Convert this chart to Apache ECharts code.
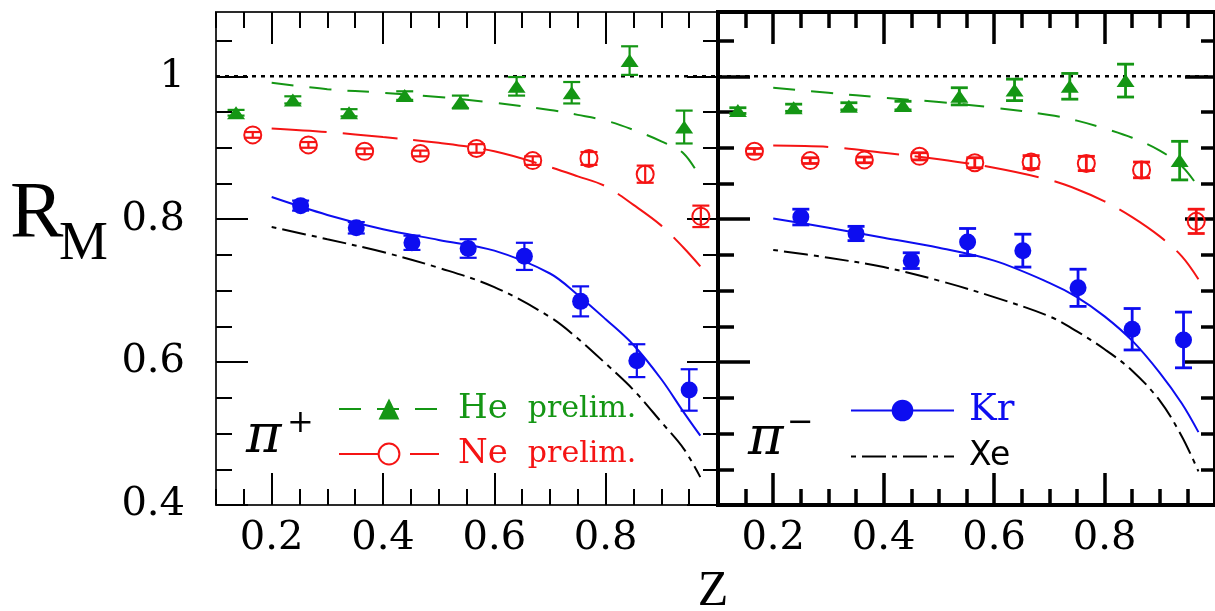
<!DOCTYPE html>
<html><head><meta charset="utf-8">
<script src="https://cdn.jsdelivr.net/npm/echarts@6/dist/echarts.min.js"></script>
<style>html,body{margin:0;padding:0;background:#fff}#c{width:1215px;height:611px}</style>
</head><body><div id="c"></div>
<script>
// ---------- data ----------
const xTickLabels = [0.2, 0.4, 0.6, 0.8];
const yTickLabels = [0.4, 0.6, 0.8, 1];
const Z_MIN = 0.1, Z_MAX = 1.0, R_MIN = 0.4, R_MAX = 1.09;

// pi+ panel
const zHeP = [0.136, 0.238, 0.339, 0.439, 0.539, 0.640, 0.739, 0.843, 0.941];
const rHeP = [0.949, 0.967, 0.949, 0.973, 0.964, 0.986, 0.977, 1.022, 0.929];
const eHeP = [0.004, 0.005, 0.005, 0.006, 0.009, 0.013, 0.015, 0.020, 0.023];
const zNeP = [0.166, 0.266, 0.367, 0.467, 0.568, 0.669, 0.770, 0.871, 0.971];
const rNeP = [0.918, 0.904, 0.895, 0.892, 0.899, 0.882, 0.885, 0.863, 0.804];
const eNeP = [0.004, 0.004, 0.004, 0.004, 0.006, 0.006, 0.009, 0.012, 0.015];
const zKrP = [0.252, 0.352, 0.452, 0.553, 0.654, 0.755, 0.856, 0.950];
const rKrP = [0.819, 0.788, 0.767, 0.759, 0.748, 0.685, 0.602, 0.561];
const eKrP = [0.007, 0.008, 0.010, 0.013, 0.019, 0.021, 0.023, 0.029];

// pi- panel
const zHeM = [0.136, 0.237, 0.337, 0.435, 0.537, 0.637, 0.737, 0.838, 0.936];
const rHeM = [0.952, 0.956, 0.958, 0.959, 0.972, 0.981, 0.986, 0.994, 0.882];
const eHeM = [0.004, 0.005, 0.005, 0.006, 0.012, 0.015, 0.018, 0.023, 0.027];
const zNeM = [0.166, 0.267, 0.365, 0.465, 0.565, 0.667, 0.767, 0.867, 0.966];
const rNeM = [0.895, 0.882, 0.883, 0.888, 0.879, 0.880, 0.878, 0.869, 0.797];
const eNeM = [0.004, 0.004, 0.004, 0.005, 0.007, 0.009, 0.010, 0.011, 0.017];
const zKrM = [0.250, 0.350, 0.450, 0.552, 0.652, 0.752, 0.850, 0.943];
const rKrM = [0.803, 0.780, 0.742, 0.768, 0.756, 0.704, 0.646, 0.631];
const eKrM = [0.011, 0.010, 0.011, 0.019, 0.023, 0.026, 0.029, 0.039];

// model curves
const zCurve = [0.2, 0.3, 0.4, 0.5, 0.6, 0.7, 0.75, 0.8, 0.85, 0.9, 0.94, 0.97];
const heCurveP = [0.991, 0.982, 0.977, 0.971, 0.963, 0.953, 0.946, 0.938, 0.925, 0.909, 0.892, 0.858];
const neCurveP = [0.927, 0.922, 0.915, 0.907, 0.895, 0.873, 0.860, 0.846, 0.820, 0.791, 0.760, 0.734];
const krCurveP = [0.831, 0.806, 0.786, 0.771, 0.756, 0.724, 0.694, 0.660, 0.624, 0.576, 0.530, 0.497];
const xeCurveP = [0.789, 0.772, 0.754, 0.732, 0.705, 0.663, 0.633, 0.598, 0.561, 0.516, 0.479, 0.439];
const heCurveM = [0.984, 0.977, 0.970, 0.964, 0.956, 0.946, 0.938, 0.927, 0.914, 0.896, 0.874, 0.845];
const neCurveM = [0.903, 0.901, 0.893, 0.884, 0.872, 0.855, 0.842, 0.825, 0.803, 0.776, 0.748, 0.716];
const krCurveM = [0.801, 0.788, 0.774, 0.760, 0.742, 0.711, 0.691, 0.664, 0.630, 0.585, 0.542, 0.502];
const xeCurveM = [0.757, 0.746, 0.733, 0.714, 0.691, 0.664, 0.643, 0.618, 0.588, 0.546, 0.496, 0.447];

const unityZ = [0.1, 1.0];
const unityR = [1, 1];

// ---------- styling ----------
const GREEN = '#149614', RED = '#f51414', BLUE = '#0d0df0', BLACK = '#000';
const panels = [
  { left: 216, frameW: 2, frameC: '#2a2a2a', tickW: 2, barW: 2.2 },
  { left: 718, frameW: 4, frameC: '#000', tickW: 3.5, barW: 2.8 }
];
const GRID_W = 501, GRID_TOP = 12, GRID_H = 493;

function range(a, b, s) { const o = []; for (let v = a; v <= b + 1e-9; v += s) o.push(+v.toFixed(4)); return o; }
const xMinor = range(Z_MIN, Z_MAX, 0.05);
const yMinor = range(R_MIN, 1.05, 0.05);
const fmt = v => String(parseFloat((+v).toFixed(2)));

const xAxes = [], yAxes = [];
panels.forEach((p, g) => {
  const tick = (vals, len) => ({ show: true, inside: true, length: len, customValues: vals, lineStyle: { color: BLACK, width: p.tickW } });
  const base = { type: 'value', gridIndex: g, axisLine: { show: false }, splitLine: { show: false } };
  xAxes.push(Object.assign({}, base, { position: 'bottom', min: Z_MIN, max: Z_MAX, axisTick: tick(xTickLabels, 32),
    axisLabel: { show: true, customValues: xTickLabels, formatter: fmt, margin: 14, color: BLACK, fontFamily: 'DejaVu Serif', fontSize: 40 } }));
  xAxes.push(Object.assign({}, base, { position: 'bottom', min: Z_MIN, max: Z_MAX, axisTick: tick(xMinor, 16), axisLabel: { show: false } }));
  xAxes.push(Object.assign({}, base, { position: 'top', min: Z_MIN, max: Z_MAX, axisTick: tick(xTickLabels, 32), axisLabel: { show: false } }));
  xAxes.push(Object.assign({}, base, { position: 'top', min: Z_MIN, max: Z_MAX, axisTick: tick(xMinor, 16), axisLabel: { show: false } }));
  yAxes.push(Object.assign({}, base, { position: 'left', min: R_MIN, max: R_MAX, axisTick: tick(yTickLabels, 32),
    axisLabel: g === 0 ? { show: true, customValues: yTickLabels, formatter: fmt, margin: 31, color: BLACK, fontFamily: 'DejaVu Serif', fontSize: 40 } : { show: false } }));
  yAxes.push(Object.assign({}, base, { position: 'left', min: R_MIN, max: R_MAX, axisTick: tick(yMinor, 16), axisLabel: { show: false } }));
  yAxes.push(Object.assign({}, base, { position: 'right', min: R_MIN, max: R_MAX, axisTick: tick(yTickLabels, 30), axisLabel: { show: false } }));
  yAxes.push(Object.assign({}, base, { position: 'right', min: R_MIN, max: R_MAX, axisTick: tick(yMinor, 14), axisLabel: { show: false } }));
});

const grids = panels.map(p => ({ left: p.left, top: GRID_TOP, width: GRID_W, height: GRID_H, show: true,
  borderColor: p.frameC, borderWidth: p.frameW, backgroundColor: 'rgba(0,0,0,0)' }));

function zip2(a, b) { return a.map((v, i) => [v, b[i]]); }
function zip3(a, b, c) { return a.map((v, i) => [v, b[i], c[i]]); }

function curve(name, g, zs, rs, color, type, symbol) {
  return { name, type: 'line', xAxisIndex: 4 * g, yAxisIndex: 4 * g, data: zip2(zs, rs), smooth: 0.35,
    symbol: symbol, showSymbol: false, color: color, itemStyle: { color: color },
    lineStyle: { color: color, width: 2, type: type }, z: 2, silent: true };
}
function errBars(name, g, zs, rs, es, color, w) {
  return { name, type: 'custom', xAxisIndex: 4 * g, yAxisIndex: 4 * g, data: zip3(zs, rs, es), encode: { x: 0, y: 1 }, z: 3, silent: true,
    renderItem: (params, api) => {
      const x = api.value(0), y = api.value(1), e = api.value(2);
      const t = api.coord([x, y + e]), b = api.coord([x, y - e]);
      const h = 8.5, st = { stroke: color, lineWidth: w };
      return { type: 'group', children: [
        { type: 'line', shape: { x1: t[0], y1: t[1], x2: b[0], y2: b[1] }, style: st },
        { type: 'line', shape: { x1: t[0] - h, y1: t[1], x2: t[0] + h, y2: t[1] }, style: st },
        { type: 'line', shape: { x1: b[0] - h, y1: b[1], x2: b[0] + h, y2: b[1] }, style: st }
      ] };
    } };
}
function points(name, g, zs, rs, symbol, size, itemStyle) {
  return { name, type: 'scatter', xAxisIndex: 4 * g, yAxisIndex: 4 * g, data: zip2(zs, rs), symbol, symbolSize: size,
    itemStyle: Object.assign({ opacity: 1 }, itemStyle), z: 4, silent: true };
}

const XE_DASH = [5, 6, 24, 6];
const series = [];
[0, 1].forEach(g => {
  series.push({ name: 'unity' + g, type: 'line', xAxisIndex: 4 * g, yAxisIndex: 4 * g, data: zip2(unityZ, unityR), symbol: 'none',
    lineStyle: { color: BLACK, width: 2.5, type: [4, 5] }, z: 1, silent: true });
});
series.push(curve('He', 0, zCurve, heCurveP, GREEN, [22, 16], 'triangle'));
series.push(curve('Ne', 0, zCurve, neCurveP, RED, [55, 16], 'emptyCircle'));
series.push(curve('Kr', 0, zCurve, krCurveP, BLUE, 'solid', 'circle'));
series.push(curve('Xe', 0, zCurve, xeCurveP, BLACK, XE_DASH, 'none'));
series.push(curve('He', 1, zCurve, heCurveM, GREEN, [22, 16], 'triangle'));
series.push(curve('Ne', 1, zCurve, neCurveM, RED, [55, 16], 'emptyCircle'));
series.push(curve('Kr', 1, zCurve, krCurveM, BLUE, 'solid', 'circle'));
series.push(curve('Xe', 1, zCurve, xeCurveM, BLACK, XE_DASH, 'none'));

series.push(errBars('He err+', 0, zHeP, rHeP, eHeP, GREEN, panels[0].barW));
series.push(errBars('Ne err+', 0, zNeP, rNeP, eNeP, RED, panels[0].barW));
series.push(errBars('Kr err+', 0, zKrP, rKrP, eKrP, BLUE, panels[0].barW));
series.push(errBars('He err-', 1, zHeM, rHeM, eHeM, GREEN, panels[1].barW));
series.push(errBars('Ne err-', 1, zNeM, rNeM, eNeM, RED, panels[1].barW));
series.push(errBars('Kr err-', 1, zKrM, rKrM, eKrM, BLUE, panels[1].barW));

const ringStyle = { color: 'rgba(255,255,255,0)', borderColor: RED, borderWidth: 2 };
series.push(points('He pts+', 0, zHeP, rHeP, 'triangle', [18, 13], { color: GREEN }));
series.push(points('Ne pts+', 0, zNeP, rNeP, 'circle', 17, ringStyle));
series.push(points('Kr pts+', 0, zKrP, rKrP, 'circle', 17, { color: BLUE }));
series.push(points('He pts-', 1, zHeM, rHeM, 'triangle', [18, 13], { color: GREEN }));
series.push(points('Ne pts-', 1, zNeM, rNeM, 'circle', 17, ringStyle));
series.push(points('Kr pts-', 1, zKrM, rKrM, 'circle', 17, { color: BLUE }));

const legends = [
  { left: 333, top: 387, orient: 'vertical', itemWidth: 100, itemHeight: 26, itemGap: 11, selectedMode: false,
    data: ['He', 'Ne'],
    formatter: n => n === 'He' ? '{gh|He}{gp|prelim.}' : '{rh|Ne}{rp|prelim.}',
    textStyle: { rich: {
      gh: { color: GREEN, fontFamily: 'DejaVu Serif', fontSize: 34, lineHeight: 40, padding: [0, 20, 0, 14] },
      gp: { color: GREEN, fontFamily: 'DejaVu Serif', fontSize: 30, lineHeight: 40 },
      rh: { color: RED, fontFamily: 'DejaVu Serif', fontSize: 34, lineHeight: 40, padding: [0, 20, 0, 14] },
      rp: { color: RED, fontFamily: 'DejaVu Serif', fontSize: 30, lineHeight: 40 } } } },
  { left: 845, top: 387, orient: 'vertical', itemWidth: 103, itemHeight: 27, itemGap: 11, selectedMode: false,
    data: ['Kr', { name: 'Xe', itemStyle: { color: 'rgba(0,0,0,0)', borderColor: 'rgba(0,0,0,0)' } }],
    formatter: n => n === 'Kr' ? '{k|Kr}' : '{x|Xe}',
    textStyle: { rich: {
      k: { color: BLUE, fontFamily: 'DejaVu Serif', fontSize: 37, lineHeight: 40, padding: [0, 0, 0, 10] },
      x: { color: BLACK, fontFamily: 'DejaVu Sans', fontSize: 33, lineHeight: 40, padding: [0, 0, 0, 10] } } } }
];

const graphic = [
  { type: 'text', x: 10, y: 216, style: { text: 'R', font: '80px "Liberation Serif"', fill: BLACK, textVerticalAlign: 'middle' } },
  { type: 'text', x: 59, y: 245, style: { text: 'M', font: '55px "Liberation Serif"', fill: BLACK, textVerticalAlign: 'middle' } },
  { type: 'text', x: 713, y: 592, style: { text: 'Z', font: '50px "Liberation Serif"', fill: BLACK, textAlign: 'center', textVerticalAlign: 'middle' } },
  { type: 'text', x: 246, y: 438, style: { text: 'π', font: 'italic 54px "DejaVu Serif"', fill: BLACK, textVerticalAlign: 'middle' } },
  { type: 'text', x: 287, y: 424, style: { text: '+', font: '32px "DejaVu Serif"', fill: BLACK, textVerticalAlign: 'middle' } },
  { type: 'text', x: 748, y: 440, style: { text: 'π', font: 'italic 54px "DejaVu Serif"', fill: BLACK, textVerticalAlign: 'middle' } },
  { type: 'text', x: 787, y: 424, style: { text: '−', font: '32px "DejaVu Serif"', fill: BLACK, textVerticalAlign: 'middle' } }
];

const chart = echarts.init(document.getElementById('c'), null, { renderer: 'canvas' });
chart.setOption({
  animation: false,
  backgroundColor: '#fff',
  grid: grids,
  xAxis: xAxes,
  yAxis: yAxes,
  legend: legends,
  graphic: graphic,
  series: series
});
</script>
</body></html>
